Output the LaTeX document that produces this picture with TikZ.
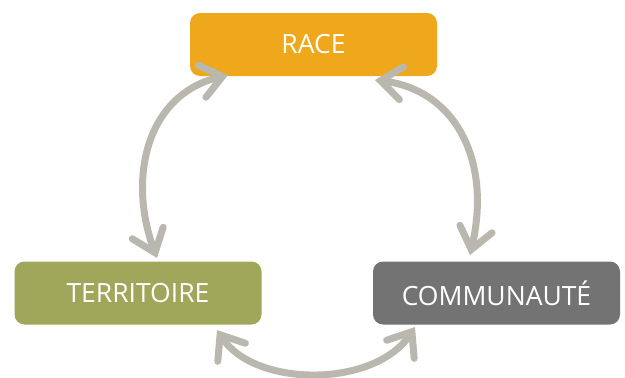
\documentclass[tikz,border=0pt]{standalone}
\usepackage{fontspec}
\setmainfont{Open Sans}
\usetikzlibrary{arrows.meta}
\definecolor{raceC}{HTML}{EFA81C}
\definecolor{terrC}{HTML}{A0A65A}
\definecolor{commC}{HTML}{737373}
\definecolor{arrC}{HTML}{BAB7AF}
\tikzset{
  box/.style={rounded corners=10pt, minimum width=247pt, minimum height=63pt, inner sep=0pt,
    text=white, font=\fontsize{26.5}{30}\selectfont},
  arr/.style={draw=arrC, line width=7pt, line cap=round,
    {Straight Barb[length=21pt,width=33pt,line cap=round]}-{Straight Barb[length=21pt,width=33pt,line cap=round]}}
}
\begin{document}
\begin{tikzpicture}[x=1pt,y=-1pt]
\useasboundingbox (0,0) rectangle (625,378);
\node[box, fill=raceC] (race) at (313.5,44.5) {RACE};
\node[box, fill=terrC] (terr) at (138,293) {TERRITOIRE};
\node[box, fill=commC] (comm) at (496.5,293) {COMMUNAUTÉ};
\coordinate (lt) at (228,75);
\coordinate (lb) at (157,258);
\coordinate (rt) at (375,80);
\coordinate (rb) at (470,255);
\coordinate (bl) at (217,330);
\coordinate (br) at (415,327);
\draw[arr] (lb) .. controls (128,180) and (145,95) .. (lt);
\draw[arr] (rt) .. controls (455,90) and (492,160) .. (rb);
\draw[arr] (bl) .. controls (255,388) and (375,388) .. (br);
\end{tikzpicture}
\end{document}
